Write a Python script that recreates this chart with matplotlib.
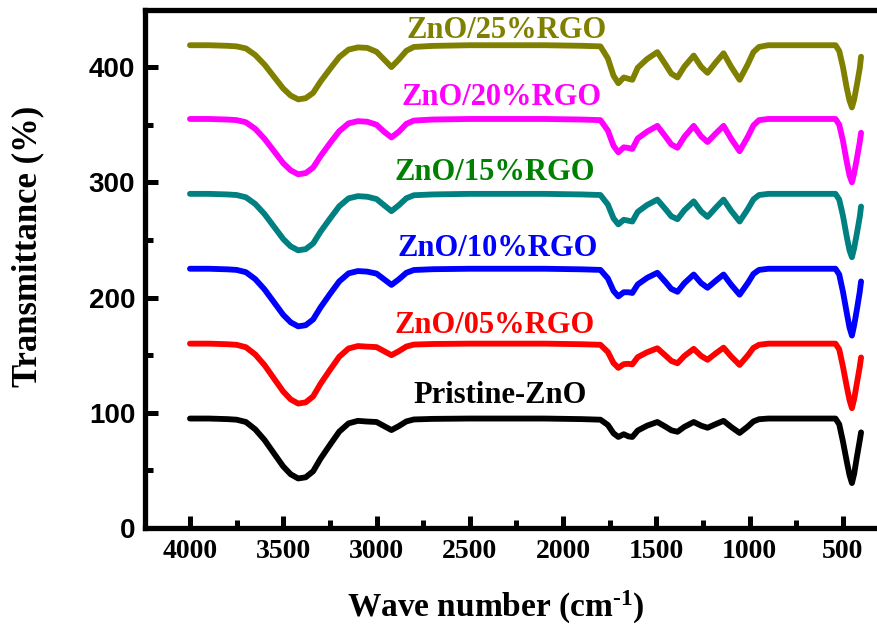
import matplotlib
matplotlib.use("Agg")
from matplotlib import pyplot as plt
from matplotlib.ticker import MultipleLocator

plt.rcParams.update({
    'font.family': 'Liberation Serif',
    'font.weight': 'bold',
    'mathtext.fontset': 'custom',
    'mathtext.rm': 'Liberation Serif:bold',
    'mathtext.it': 'Liberation Serif:bold',
    'mathtext.bf': 'Liberation Serif:bold',
})

# wave numbers (cm-1) shared by all spectra
wavenumber = [4000, 3900, 3800, 3750, 3700, 3650, 3600, 3550, 3500, 3460,
              3420, 3380, 3340, 3300, 3250, 3200, 3150, 3100, 3050, 3000,
              2960, 2920, 2880, 2840, 2800, 2700, 2500, 2300, 2100, 1900,
              1800, 1760, 1730, 1704, 1675, 1650, 1629, 1600, 1550, 1495,
              1450, 1420, 1387, 1350, 1300, 1260, 1226, 1180, 1140, 1100,
              1054, 1010, 980, 950, 900, 800, 700, 600, 540, 520,
              500, 480, 465, 452, 440, 425, 410, 403]

pristine = [95, 95, 94.5, 94, 92, 85.6, 76.3, 64.8, 53.4, 46.6,
            43, 44, 49.2, 60.2, 72.1, 83.6, 90.8, 93, 92.4, 92,
            88.5, 85, 88.5, 92.5, 94.2, 94.7, 95, 95, 95, 94.5,
            94, 89.4, 82.2, 79, 81.4, 79.5, 79, 84.6, 88.8, 92,
            87.8, 84.8, 83.5, 87.8, 92, 88.8, 87, 90.3, 93, 87.8,
            82.5, 88.1, 92.5, 94.4, 95, 95, 95, 95, 95, 90,
            75, 58, 46, 39, 47, 62, 76, 83]

zno_05 = [160, 160, 159.5, 159, 156.9, 150.6, 141.3, 129.8, 118.4, 111.6,
          108, 109, 114.2, 125.2, 137.1, 148.6, 155.8, 157.9, 157.4, 157,
          153.5, 150, 153.5, 157.5, 159.2, 159.7, 160, 160, 160, 159.5,
          159, 152.7, 143.2, 139, 142.2, 142.5, 142, 148.3, 152.5, 156,
          149.5, 145, 143, 149.3, 155.5, 149.3, 146, 151.8, 156.5, 149,
          141.5, 149.8, 156.3, 159, 160, 160, 160, 160, 160, 155,
          140, 123, 111, 104, 112, 126, 140, 148]

zno_10 = [225, 225, 224.5, 224, 222, 216, 207, 196, 185, 178.5,
          175, 176, 181, 191.5, 203, 214, 221, 223, 222.5, 220.8,
          215.9, 211, 215.9, 221.5, 223.9, 224.6, 225, 225, 225, 224.5,
          224, 216.6, 205.8, 201, 204.6, 204.6, 204, 211.4, 217.1, 221.5,
          213.3, 207.5, 205, 212.5, 220, 212.5, 208.5, 214.8, 220, 211.3,
          202.5, 212.6, 220.5, 224, 225, 225, 225, 225, 225, 220,
          205, 187, 174, 167, 176, 190, 205, 214]

zno_15 = [290, 290, 289.5, 289, 287, 281.2, 272.4, 261.6, 250.8, 244.4,
          241, 242, 246.9, 257.2, 268.4, 279.2, 286.1, 288, 287.5, 285.5,
          280.2, 275, 280.2, 286.2, 288.8, 289.5, 290, 290, 290, 289.5,
          289, 280.7, 268.8, 263.5, 267.5, 266.7, 266, 274.4, 280.3, 285,
          276.5, 270.5, 268, 275.8, 283.5, 274.7, 270, 278.3, 285, 275.5,
          266, 276.8, 285.2, 289, 290, 290, 290, 290, 290, 285,
          271, 253, 241, 235, 243, 256, 270, 279]

zno_20 = [355, 355, 354.5, 354, 352.1, 346.4, 337.7, 327.2, 316.6, 310.4,
          307, 308, 312.8, 322.8, 333.9, 344.4, 351.2, 353.1, 352.6, 350,
          344, 339, 344, 350.8, 353.6, 354.5, 355, 355, 355, 354.5,
          354, 344.9, 331.8, 326, 330.4, 329.8, 329, 338.1, 344, 349,
          339.5, 332.9, 330, 339.5, 349, 339.9, 335, 342.7, 349, 338,
          327, 339.6, 349.4, 354, 355, 355, 355, 355, 355, 350,
          336, 318, 306, 300, 308, 321, 335, 343]

zno_25 = [419, 419, 418.5, 418, 416.2, 410.5, 402.1, 391.7, 381.4, 375.3,
          372, 373, 377.6, 387.5, 398.3, 408.7, 415.2, 417.1, 416.7, 413.3,
          406.7, 400, 406.7, 414.2, 417.5, 418.4, 419, 419, 419, 418.5,
          418, 407.5, 392.6, 386, 391, 389.9, 389, 399.5, 407, 413,
          402, 394.3, 391, 400.5, 410, 400.3, 395, 404.4, 412, 400.5,
          389, 402.5, 413, 417.5, 419, 419, 419, 419, 419, 414,
          400, 382, 371, 365, 372, 385, 399, 409]

series = [pristine, zno_05, zno_10, zno_15, zno_20, zno_25]
line_colors = ['black', '#ff0000', '#0000ff', '#008080', '#ff00ff', '#808000']
labels = ['Pristine-ZnO', 'ZnO/05%RGO', 'ZnO/10%RGO', 'ZnO/15%RGO', 'ZnO/20%RGO', 'ZnO/25%RGO']
label_colors = ['black', '#ff0000', '#0000ff', '#008000', '#ff00ff', '#808000']
label_x = [2339, 2366, 2349, 2366, 2328, 2301]
label_y = [108.5, 169, 236, 302, 367, 425]

fig = plt.figure(figsize=(8.78, 6.27), dpi=100)
ax = fig.add_axes([145 / 878, 1 - 528 / 627, (887 - 145) / 878, (528 - 9.5) / 627])

for y, c in zip(series, line_colors):
    ax.plot(wavenumber, y, color=c, lw=4.2, solid_joinstyle='round', solid_capstyle='round')

for txt, c, x, y in zip(labels, label_colors, label_x, label_y):
    ax.text(x, y, txt, color=c, fontsize=22, fontweight='bold', ha='center', va='baseline')

ax.set_xlim(4241, 264)
ax.set_ylim(0, 450)

ax.xaxis.set_major_locator(MultipleLocator(500))
ax.xaxis.set_minor_locator(MultipleLocator(250))
ax.yaxis.set_major_locator(MultipleLocator(100))
ax.yaxis.set_minor_locator(MultipleLocator(50))

ax.spines['right'].set_visible(False)
for s in ['left', 'top', 'bottom']:
    ax.spines[s].set_linewidth(3.8)

ax.tick_params(which='both', direction='in', width=3.6, top=False, right=False)
ax.tick_params(which='major', length=9)
ax.tick_params(which='minor', length=5.5)
ax.tick_params(axis='x', pad=8, labelsize=20)
ax.tick_params(axis='y', pad=7)

for lab in ax.get_yticklabels():
    lab.set_fontfamily('Liberation Sans')
    lab.set_fontweight('bold')
    lab.set_fontsize(20)
for lab in ax.get_xticklabels():
    lab.set_fontweight('bold')

fig.text(496 / 878, 1 - 617 / 627, 'Wave number (cm$^{\\text{-1}}$)', fontsize=24,
         fontweight='bold', ha='center', va='baseline')
fig.text(28 / 878, 1 - 246 / 627, 'Transmittance (%)', fontsize=25,
         fontweight='bold', ha='center', va='center', rotation=90)

fig.savefig('out.png', dpi=100)
